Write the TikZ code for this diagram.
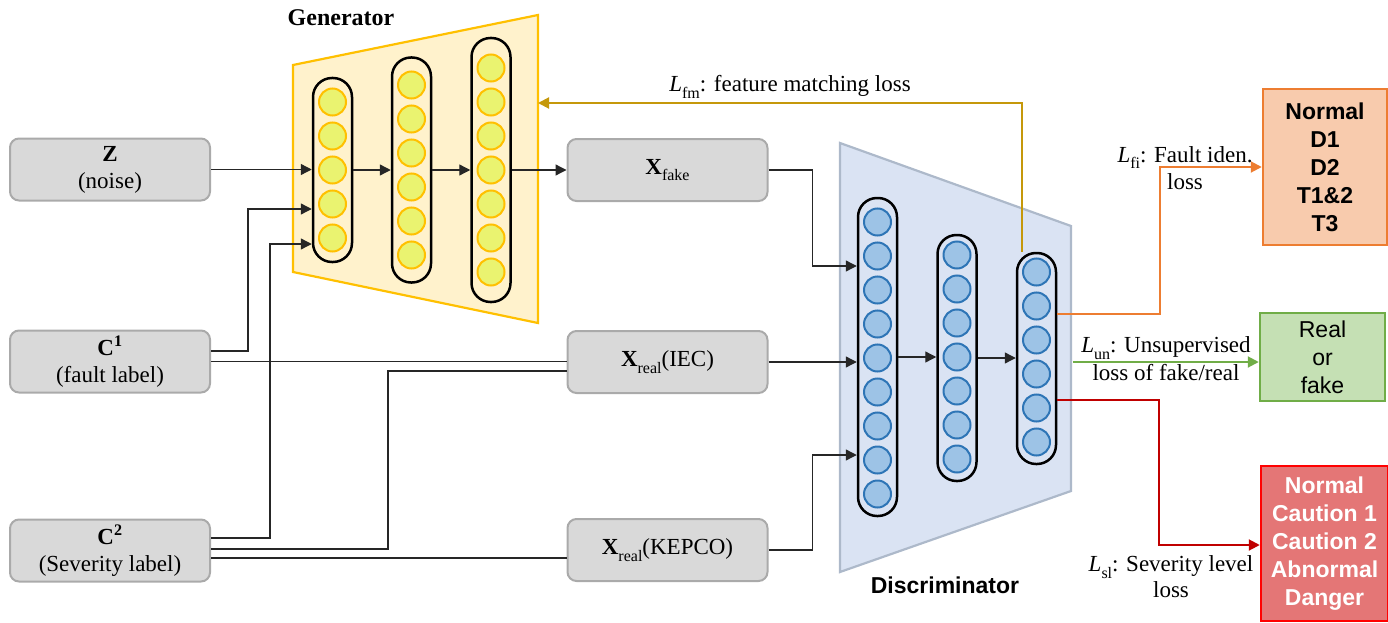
\documentclass[tikz,border=0pt]{standalone}
\usepackage{fontspec}
\setmainfont{Liberation Serif}
\setsansfont{Liberation Sans}
\usetikzlibrary{arrows.meta,calc}
\definecolor{boxfill}{RGB}{217,217,217}
\definecolor{boxborder}{RGB}{170,170,170}
\definecolor{genfill}{RGB}{255,242,204}
\definecolor{genborder}{RGB}{255,192,0}
\definecolor{ycircfill}{RGB}{234,243,112}
\definecolor{ycircborder}{RGB}{255,192,0}
\definecolor{discfill}{RGB}{218,227,243}
\definecolor{discborder}{RGB}{173,185,202}
\definecolor{bcircfill}{RGB}{157,195,230}
\definecolor{bcircborder}{RGB}{46,117,182}
\definecolor{fmcol}{RGB}{197,152,10}
\definecolor{orline}{RGB}{237,125,49}
\definecolor{orfill}{RGB}{248,203,173}
\definecolor{grline}{RGB}{112,173,71}
\definecolor{grfill}{RGB}{197,224,180}
\definecolor{rdline}{RGB}{192,0,0}
\definecolor{rdborder}{RGB}{255,0,0}
\definecolor{rdfill}{RGB}{228,118,118}
\newcommand{\lowsub}[1]{\raisebox{-0.28em}{\fontsize{16}{16}\selectfont #1}}
\begin{document}
\begin{tikzpicture}[x=1pt,y=-1pt,font=\fontsize{23}{27}\selectfont,
  inbox/.style={draw=boxborder,fill=boxfill,line width=2pt,rounded corners=9pt,
    minimum width=200pt,minimum height=62pt,align=center,inner sep=0pt},
  col/.style={draw=black,line width=2.5pt,rounded corners=19pt,minimum width=39pt,inner sep=0pt},
  ycirc/.style={circle,draw=ycircborder,fill=ycircfill,line width=2pt,minimum size=27pt,inner sep=0pt},
  bcirc/.style={circle,draw=bcircborder,fill=bcircfill,line width=2pt,minimum size=27pt,inner sep=0pt},
  conn/.style={line width=1.3pt,draw=black!85},
  tip/.style={-{Triangle[length=11pt,width=11pt]}},
  arr/.style={conn,tip},
  outbox/.style={line width=2.5pt,align=center,inner sep=0pt,
    font=\fontsize{23}{28}\selectfont\sffamily},
  lbl/.style={align=center,inner sep=0pt}
]
\useasboundingbox (0,0) rectangle (1388,623);

% trapezoids
\draw[draw=genborder,fill=genfill,line width=2.2pt] (293,65) -- (538,15) -- (538,323) -- (293,272) -- cycle;
\draw[draw=discborder,fill=discfill,line width=2.2pt] (840,143) -- (1071,226) -- (1071,491) -- (840,572) -- cycle;
\node[font=\fontsize{24}{28}\selectfont\bfseries] (gtitle) at (341,18) {Generator};
\node[font=\fontsize{23}{28}\selectfont\sffamily\bfseries] (dtitle) at (945,585) {Discriminator};

% input boxes
\node[inbox] (z) at (110,169.5) {\textbf{Z}\\(noise)};
\node[inbox] (c1) at (110,361.5) {\textbf{C}\textsuperscript{\textbf{1}}\\(fault label)};
\node[inbox] (c2) at (110,550.5) {\textbf{C}\textsuperscript{\textbf{2}}\\(Severity label)};
\node[inbox] (xf) at (667.5,170) {\textbf{X}\lowsub{fake}};
\node[inbox] (iec) at (667.5,362) {\textbf{X}\lowsub{real}(IEC)};
\node[inbox] (kep) at (667.5,550) {\textbf{X}\lowsub{real}(KEPCO)};

% generator columns
\foreach \i in {0,...,4} \node[ycirc] (ga\i) at (332.5,{102+34*\i}) {};
\foreach \i in {0,...,5} \node[ycirc] (gb\i) at (411.5,{85+34*\i}) {};
\foreach \i in {0,...,6} \node[ycirc] (gc\i) at (491,{68+34*\i}) {};
\node[col,minimum height=184pt] (g1) at (332.5,170) {};
\node[col,minimum height=225pt] (g2) at (411.5,170) {};
\node[col,minimum height=264pt] (g3) at (491,170) {};

% discriminator columns
\foreach \i in {0,...,8} \node[bcirc] (da\i) at (877.5,{222+34*\i}) {};
\foreach \i in {0,...,6} \node[bcirc] (db\i) at (957,{255+34*\i}) {};
\foreach \i in {0,...,5} \node[bcirc] (dc\i) at (1036.5,{272+34*\i}) {};
\node[col,minimum height=318pt] (d1) at (877.5,357) {};
\node[col,minimum height=246pt] (d2) at (957,358) {};
\node[col,minimum height=211pt] (d3) at (1036.5,358.5) {};

% output boxes
\node[outbox,draw=orline,fill=orfill,minimum width=124pt,minimum height=156pt,font=\fontsize{23}{28}\selectfont\sffamily\bfseries] (ob) at (1325,167) {Normal\\D1\\D2\\T1\&2\\T3};
\node[outbox,draw=grline,fill=grfill,minimum width=125pt,minimum height=88pt] (gbx) at (1322.5,357) {Real\\or\\fake};
\node[outbox,draw=rdborder,fill=rdfill,text=white,minimum width=127pt,minimum height=155pt,font=\fontsize{23}{28}\selectfont\sffamily\bfseries] (rb) at (1324.5,543.5) {Normal\\Caution 1\\Caution 2\\Abnormal\\Danger};

% coordinates
\coordinate (c1a) at (248,209);
\coordinate (c2a) at (270,244);
\coordinate (c2b) at (388,371);
\coordinate (c2c) at ($(c2.east)+(0,7.5)$);
\coordinate (xd) at (812.5,266);
\coordinate (kd) at (812.5,455);
\coordinate (genR) at (538,103);
\coordinate (oc) at (1160,167);
\coordinate (rc) at (1159,545);
\coordinate (gs) at (1073,362);

% generator connectors
\draw[arr] (z.east) -- (z.east -| g1.west);
\draw[arr] (g1.east) -- (g2.west);
\draw[arr] (g2.east) -- (g3.west);
\draw[arr] (g3.east) -- (xf.west);
\draw[arr] ($(c1.east)+(0,-10.5)$) -| (c1a) -- (c1a -| g1.west);
\draw[arr] ($(c2.east)+(0,-12.5)$) -| (c2a) -- (c2a -| g1.west);
\draw[conn] (c1.east) -- (c1.east -| iec.west);
\draw[conn] ($(c2.east)+(0,-1.5)$) -| (c2b) -- (c2b -| iec.west);
\draw[conn] (c2c) -- (c2c -| kep.west);

% discriminator connectors
\draw[arr] (xf.east) -| (xd) -- (xd -| d1.west);
\draw[arr] (iec.east) -- (iec.east -| d1.west);
\draw[arr] (kep.east) -| (kd) -- (kd -| d1.west);
\draw[arr] (d1.east) -- (d1.east -| d2.west);
\draw[arr] (d2.east) -- (d2.east -| d3.west);

% losses
\draw[line width=2pt,draw=fmcol,-{Triangle[length=11pt,width=11pt]},fmcol] ($(d3.north)+(-14.5,0)$) |- (genR);
\node[lbl] (lfm) at (790,87) {\textit{L}\lowsub{fm}: feature matching loss};

\draw[line width=2pt,draw=orline,-{Triangle[length=11pt,width=11pt]},orline] ($(d3.east)+(0,-44.5)$) -| (oc) -- (ob.west);
\node[lbl] (lfi) at (1185,168) {\textit{L}\lowsub{fi}: Fault iden.\\loss};

\draw[line width=2pt,draw=grline,-{Triangle[length=11pt,width=11pt]},grline] (gs) -- (gs -| gbx.west);
\node[lbl,font=\fontsize{23}{28}\selectfont] (lun) at (1166,359) {\textit{L}\lowsub{un}: Unsupervised\\loss of fake/real};

\draw[line width=2pt,draw=rdline,-{Triangle[length=11pt,width=11pt]},rdline] ($(d3.east)+(0,41.5)$) -| (rc) -- (rc -| rb.west);
\node[lbl,font=\fontsize{23}{26}\selectfont] (lsl) at (1171,577) {\textit{L}\lowsub{sl}: Severity level\\loss};
\end{tikzpicture}
\end{document}
